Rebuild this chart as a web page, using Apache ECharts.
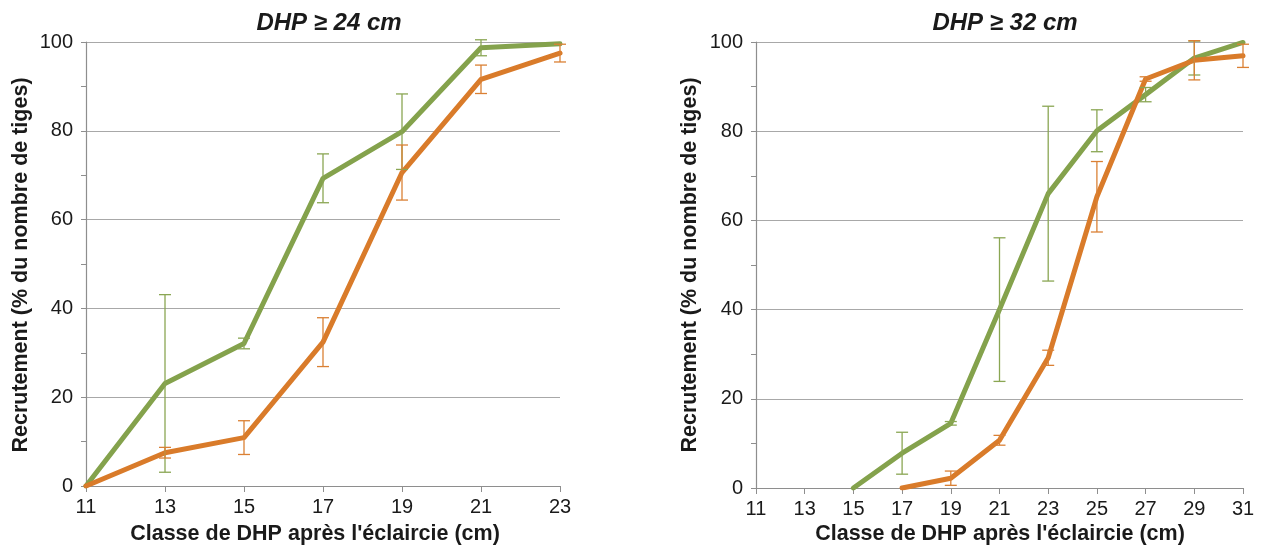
<!DOCTYPE html>
<html>
<head>
<meta charset="utf-8">
<script src="https://cdn.jsdelivr.net/npm/echarts@6/dist/echarts.min.js"></script>
<style>
  html, body { margin: 0; padding: 0; background: #ffffff; }
  #chart { width: 1261px; height: 547px; }
</style>
</head>
<body>
<div id="chart"></div>
<script>
// Panel titles and axis texts
const panelTitles = ['DHP \u2265 24 cm', 'DHP \u2265 32 cm'];
const xAxisTitle = "Classe de DHP apr\u00e8s l'\u00e9claircie (cm)";
const yAxisTitle = 'Recrutement (% du nombre de tiges)';

// Left panel (DHP >= 24 cm): diameter classes, means and error half-widths
const classesA = [11, 13, 15, 17, 19, 21, 23];
const greenA = [0, 23.1, 32.1, 69.3, 79.8, 98.7, 99.6];
const greenErrA = [0, 20, 1.2, 5.5, 8.5, 1.8, 0];
const orangeA = [0, 7.5, 10.9, 32.4, 70.6, 91.6, 97.5];
const orangeErrA = [0, 1.2, 3.8, 5.5, 6.2, 3.2, 2.0];

// Right panel (DHP >= 32 cm)
const classesB = [15, 17, 19, 21, 23, 25, 27, 29, 31];
const greenB = [0, 7.8, 14.5, 40.0, 66.0, 80.1, 88.2, 96.4, 99.9];
const greenErrB = [0, 4.7, 0.4, 16.1, 19.6, 4.7, 1.6, 3.8, 0];
const orangeB = [null, 0, 2.2, 10.7, 29.2, 65.3, 91.7, 95.9, 96.9];
const orangeErrB = [null, 0, 1.6, 1.1, 1.7, 7.9, 0.5, 4.4, 2.6];

// Axis ranges
const xRangeA = [11, 23];
const xRangeB = [11, 31];
const yTicks = [0, 20, 40, 60, 80, 100];

const GREEN = '#84a24c';
const ORANGE = '#d97b2a';
const GREEN_ERR = '#8aa653';
const ORANGE_ERR = '#da8034';
const FONT = "'Liberation Sans', Arial, sans-serif";

function pairs(xs, ys) {
  return xs.map((x, i) => ys[i] == null ? null : [x, ys[i]]).filter(p => p);
}
function triples(xs, ys, es) {
  return xs.map((x, i) => ys[i] == null ? null : [x, ys[i], es[i]]).filter(p => p);
}

// Vertical error bar with caps at mean +/- half-width
function errorBars(color) {
  return function (params, api) {
    const x = api.value(0), y = api.value(1), e = api.value(2);
    if (!e) return null;
    const top = api.coord([x, y + e]);
    const bot = api.coord([x, y - e]);
    const hw = 6;
    const st = { stroke: color, lineWidth: 1.3 };
    return {
      type: 'group',
      children: [
        { type: 'line', shape: { x1: top[0], y1: top[1], x2: bot[0], y2: bot[1] }, style: st },
        { type: 'line', shape: { x1: top[0] - hw, y1: top[1], x2: top[0] + hw, y2: top[1] }, style: st },
        { type: 'line', shape: { x1: bot[0] - hw, y1: bot[1], x2: bot[0] + hw, y2: bot[1] }, style: st }
      ]
    };
  };
}

function xAxisFor(idx, range) {
  return {
    type: 'value', gridIndex: idx, min: range[0], max: range[1], interval: 2,
    axisLine: { show: true, lineStyle: { color: '#8e8e8e', width: 1.2 } },
    axisTick: { show: true, length: 6, lineStyle: { color: '#8e8e8e' } },
    axisLabel: { color: '#1a1a1a', fontSize: 20, fontFamily: FONT, margin: 11 },
    splitLine: { show: false }
  };
}
function yAxisFor(idx) {
  return {
    type: 'value', gridIndex: idx, min: yTicks[0], max: yTicks[yTicks.length - 1], interval: 20,
    axisLine: { show: true, lineStyle: { color: '#8e8e8e', width: 1.2 } },
    axisTick: { show: true, length: 5, lineStyle: { color: '#8e8e8e' } },
    minorTick: { show: true, splitNumber: 2, length: 5, lineStyle: { color: '#8e8e8e' } },
    axisLabel: { color: '#1a1a1a', fontSize: 20, fontFamily: FONT, margin: 13 },
    splitLine: { show: true, lineStyle: { color: '#a8a8a8', width: 1 } }
  };
}

function lineSeries(idx, data, color) {
  return {
    type: 'line', xAxisIndex: idx, yAxisIndex: idx, data: data,
    symbol: 'none', z: 3,
    lineStyle: { color: color, width: 5, cap: 'round', join: 'round' },
    animation: false
  };
}
function errSeries(idx, data, color) {
  return {
    type: 'custom', xAxisIndex: idx, yAxisIndex: idx, data: data,
    renderItem: errorBars(color), z: 4, clip: false, animation: false
  };
}

const titleStyle = { fontSize: 24, fontWeight: 'bold', fontStyle: 'italic', color: '#1a1a1a', fontFamily: FONT };
const nameStyle = { fontSize: 21.5, fontWeight: 'bold', fill: '#1a1a1a', fontFamily: FONT };

const chart = echarts.init(document.getElementById('chart'), null, { renderer: 'canvas' });
chart.setOption({
  animation: false,
  backgroundColor: '#ffffff',
  title: [
    { text: panelTitles[0], left: 324, top: 6, textAlign: 'center', textStyle: titleStyle },
    { text: panelTitles[1], left: 1000, top: 6, textAlign: 'center', textStyle: titleStyle }
  ],
  grid: [
    { left: 86, right: 701, top: 42, bottom: 61 },
    { left: 756, right: 18, top: 42, bottom: 59 }
  ],
  xAxis: [xAxisFor(0, xRangeA), xAxisFor(1, xRangeB)],
  yAxis: [yAxisFor(0), yAxisFor(1)],
  series: [
    lineSeries(0, pairs(classesA, greenA), GREEN),
    lineSeries(0, pairs(classesA, orangeA), ORANGE),
    errSeries(0, triples(classesA, greenA, greenErrA), GREEN_ERR),
    errSeries(0, triples(classesA, orangeA, orangeErrA), ORANGE_ERR),
    lineSeries(1, pairs(classesB, greenB), GREEN),
    lineSeries(1, pairs(classesB, orangeB), ORANGE),
    errSeries(1, triples(classesB, greenB, greenErrB), GREEN_ERR),
    errSeries(1, triples(classesB, orangeB, orangeErrB), ORANGE_ERR)
  ],
  graphic: [
    { type: 'text', x: 315, y: 534, style: Object.assign({ text: xAxisTitle, textAlign: 'center', textVerticalAlign: 'middle' }, nameStyle) },
    { type: 'text', x: 1000, y: 534, style: Object.assign({ text: xAxisTitle, textAlign: 'center', textVerticalAlign: 'middle' }, nameStyle) },
    { type: 'text', x: 21, y: 265, rotation: Math.PI / 2, style: Object.assign({ text: yAxisTitle, textAlign: 'center', textVerticalAlign: 'middle' }, nameStyle) },
    { type: 'text', x: 690, y: 265, rotation: Math.PI / 2, style: Object.assign({ text: yAxisTitle, textAlign: 'center', textVerticalAlign: 'middle' }, nameStyle) }
  ]
});
</script>
</body>
</html>
